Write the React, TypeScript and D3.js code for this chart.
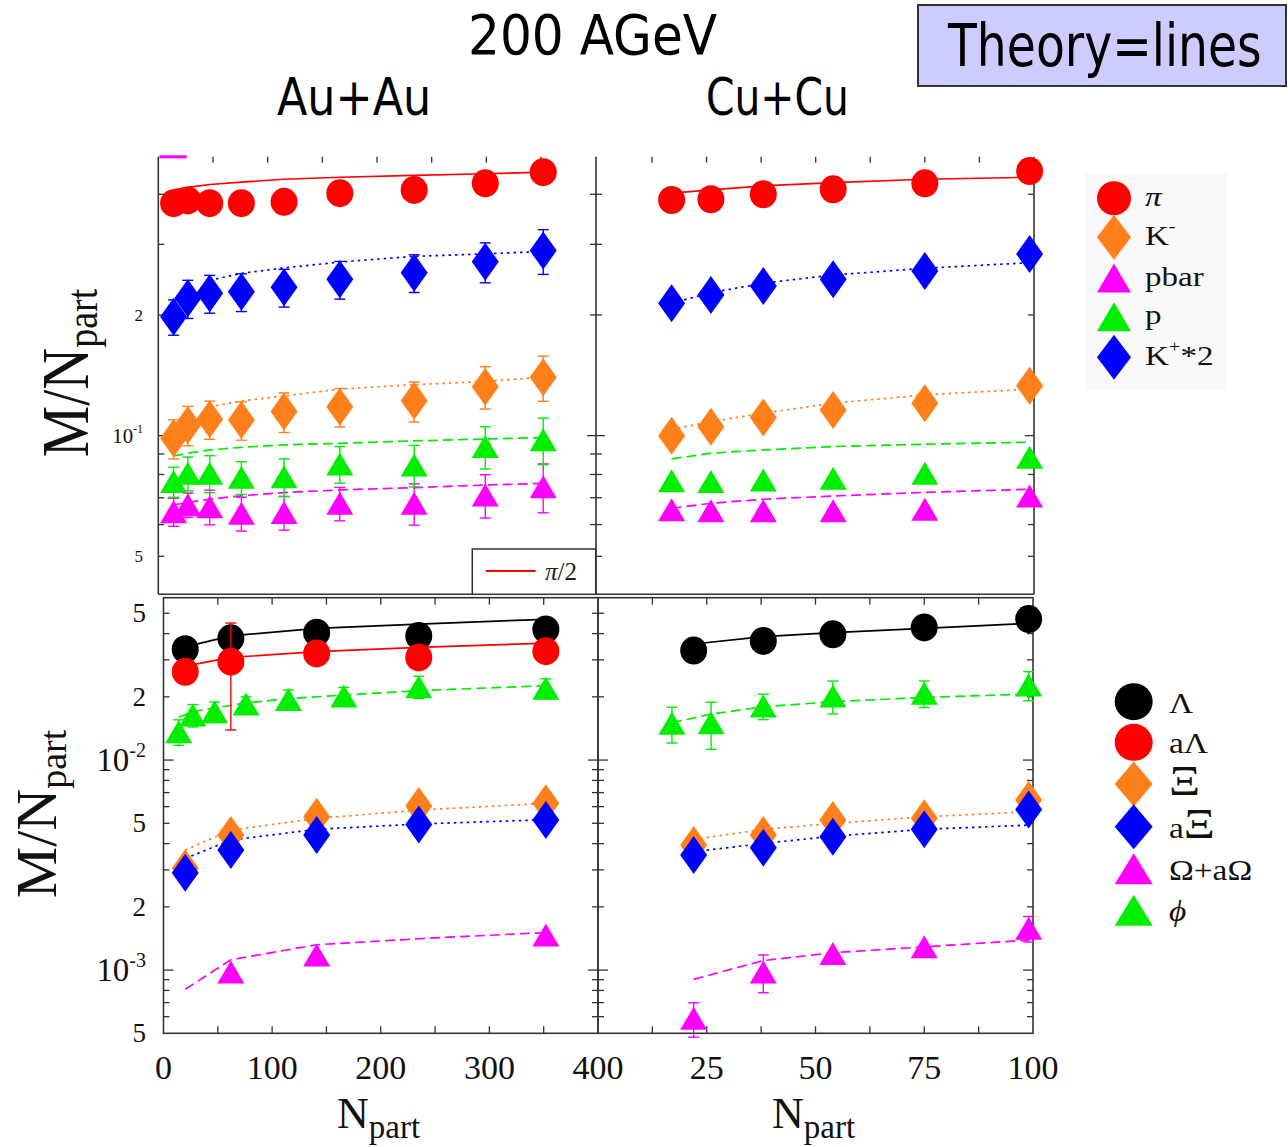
import React from "react";
import * as d3 from "d3";

// ---------- Au+Au 200 AGeV : pi, K, p (per participant) ----------
const auNpart = [14, 27, 47, 76, 115, 166, 234, 299, 352];
const auPi = [0.38, 0.386, 0.38, 0.38, 0.383, 0.4025, 0.41, 0.426, 0.454];
const auPiTheory = [0.41, 0.416, 0.423, 0.429, 0.436, 0.441, 0.446, 0.45, 0.454];
const auKminus = [0.0985, 0.1063, 0.1099, 0.1094, 0.1148, 0.1181, 0.1221, 0.1325, 0.1398];
const auKminusErr = [0.011, 0.012, 0.012, 0.012, 0.013, 0.013, 0.014, 0.016, 0.018];
const auKplus2 = [0.198, 0.22, 0.2265, 0.2286, 0.2345, 0.2455, 0.255, 0.2716, 0.2894];
const auKplus2Err = [0.02, 0.024, 0.0245, 0.0247, 0.0253, 0.0265, 0.0275, 0.031, 0.037];
const auP = [0.0768, 0.0806, 0.0806, 0.0787, 0.079, 0.085, 0.0845, 0.0939, 0.0976];
const auPErr = [0.0066, 0.0078, 0.0085, 0.0074, 0.0085, 0.0089, 0.01, 0.0113, 0.013];
const auPbar = [0.0646, 0.0672, 0.0665, 0.064, 0.0643, 0.0678, 0.0678, 0.0711, 0.0746];
const auPbarErr = [0.0052, 0.0047, 0.0066, 0.0062, 0.0062, 0.0065, 0.008, 0.0088, 0.0104];
const auKTheoryNpart = [47, 76, 115, 166, 234, 299, 352];
const auKminusTheory = [0.118, 0.122, 0.1256, 0.1306, 0.134, 0.1365, 0.14];
const auKplus2Theory = [0.244, 0.254, 0.262, 0.271, 0.28, 0.284, 0.288];
const auPTheory = [0.089, 0.0904, 0.0921, 0.0935, 0.0948, 0.0957, 0.097, 0.0981, 0.0989];
const auPbarTheory = [0.0672, 0.0681, 0.0694, 0.0708, 0.0721, 0.0732, 0.0742, 0.0753, 0.076];
const auPbarEdgeNpart = [1, 26];
const auPbarEdge = [0.496, 0.496];

// ---------- Cu+Cu 200 AGeV : pi, K, p ----------
const cuNpart = [17, 26, 38, 54, 75, 99];
const cuPi = [0.387, 0.3886, 0.4, 0.4116, 0.426, 0.457];
const cuPiTheory = [0.4025, 0.41, 0.4195, 0.4276, 0.436, 0.441];
const cuKminus = [0.1, 0.1053, 0.1109, 0.1159, 0.1205, 0.1332];
const cuKminusTheory = [0.1037, 0.1084, 0.1137, 0.1205, 0.1264, 0.1306];
const cuKplus2 = [0.2139, 0.2243, 0.2362, 0.2455, 0.2575, 0.2838];
const cuKplus2Theory = [0.214, 0.2273, 0.24, 0.2516, 0.2615, 0.27];
const cuP = [0.0772, 0.0768, 0.0775, 0.0783, 0.0806, 0.0883];
const cuPTheory = [0.0875, 0.0904, 0.0921, 0.0939, 0.0952, 0.0963];
const cuPbar = [0.0653, 0.065, 0.065, 0.065, 0.0655, 0.0707];
const cuPbarTheory = [0.0659, 0.0678, 0.0694, 0.0707, 0.0722, 0.0735];

// ---------- Au+Au strange hadrons ----------
const auStrNpart = [20, 62, 141, 235, 352];
const auLambda = [0.0337, 0.038, 0.0404, 0.039, 0.0419];
const auLambdaTheory = [0.0346, 0.039, 0.0424, 0.0444, 0.0468];
const auALambda = [0.0263, 0.0294, 0.0322, 0.0308, 0.033];
const auALambdaErr = [0, 0.0155, 0, 0, 0];
const auALambdaTheory = [0.028, 0.0308, 0.0328, 0.0344, 0.036];
const auXi = [0.00305, 0.0044, 0.00537, 0.00604, 0.00622];
const auXiTheory = [0.00373, 0.00464, 0.00527, 0.00578, 0.00622];
const auAXi = [0.00291, 0.00373, 0.0044, 0.00494, 0.00518];
const auAXiTheory = [0.0034, 0.00416, 0.00468, 0.00496, 0.0052];
const auOmegaNpart = [62, 141, 352];
const auOmega = [0.00098, 0.00118, 0.00147];
const auOmegaTheory = [0.00081, 0.00112, 0.00132, 0.00141, 0.00151];
const auPhiNpart = [14, 27, 47, 76, 115, 166, 235, 352];
const auPhi = [0.01364, 0.01637, 0.01698, 0.01848, 0.01945, 0.02018, 0.02234, 0.02195];
const auPhiErr = [0.0019, 0.002, 0.0019, 0.0015, 0.0021, 0.002, 0.0027, 0.0024];
const auPhiTheory = [0.016, 0.017, 0.0177, 0.0187, 0.0196, 0.0204, 0.0214, 0.0226];

// ---------- Cu+Cu strange hadrons ----------
const cuStrNpart = [22, 38, 54, 75, 99];
const cuLambda = [0.0332, 0.0369, 0.0397, 0.0428, 0.0469];
const cuLambdaTheory = [0.0357, 0.0387, 0.0404, 0.0424, 0.0448];
const cuXi = [0.00394, 0.0044, 0.00518, 0.00528, 0.00645];
const cuXiTheory = [0.00419, 0.00468, 0.00499, 0.00537, 0.00567];
const cuAXi = [0.00353, 0.00382, 0.00431, 0.00468, 0.00582];
const cuAXiTheory = [0.00366, 0.00401, 0.00434, 0.00468, 0.0049];
const cuOmega = [0.000589, 0.00098, 0.0012, 0.00129, 0.00158];
const cuOmegaErr = [0.00011, 0.0002, 0, 0, 0.00022];
const cuOmegaTheory = [0.000903, 0.00111, 0.00121, 0.00129, 0.00139];
const cuPhiNpart = [17, 26, 38, 54, 75, 99];
const cuPhi = [0.01496, 0.01505, 0.01808, 0.02018, 0.02078, 0.02275];
const cuPhiErr = [0.0029, 0.0038, 0.0025, 0.0036, 0.003, 0.0036];
const cuPhiTheory = [0.01505, 0.01656, 0.01794, 0.01895, 0.01988, 0.0206];

// ---------- axes ----------
const auXTickLabels = [0, 100, 200, 300, 400];
const cuXTickLabels = [25, 50, 75, 100];
const topYLabelValues = [0.05, 0.1, 0.2];
const botYLabelValues = [0.0005, 0.001, 0.002, 0.005, 0.01, 0.02, 0.05];

const topLegendLabels = ["π", "K-", "pbar", "p", "K+*2"];
const botLegendLabels = ["Λ", "aΛ", "Ξ", "aΞ", "Ω+aΩ", "ϕ"];

const RED = "#ff0000";
const ORANGE = "#ff7f1a";
const MAGENTA = "#ff00ff";
const GREEN = "#00ee00";
const BLUE = "#0000ff";
const BLACK = "#000000";
const FRAME = "#333333";

const SERIF = "'Liberation Serif','Times New Roman',Times,serif";
const HAND = "'DejaVu Sans',sans-serif";

type Kind = "circle" | "diamond" | "triangle";
type Series = { x: number[]; y: number[]; err?: number[]; color: string; kind: Kind };
type Curve = { x: number[]; y: number[]; color: string; dash?: string; width?: number };

const DOT = "2.5,4";
const DASH = "10,5";

function Marker({ kind, cx, cy, color, w, h }: { kind: Kind; cx: number; cy: number; color: string; w: number; h: number }) {
  if (kind === "circle") return <ellipse cx={cx} cy={cy} rx={w} ry={h} fill={color} />;
  if (kind === "diamond")
    return <path d={`M${cx},${cy - h}L${cx + w},${cy}L${cx},${cy + h}L${cx - w},${cy}Z`} fill={color} />;
  return <path d={`M${cx},${cy - h}L${cx + w},${cy + h}L${cx - w},${cy + h}Z`} fill={color} />;
}

const markerSize: Record<Kind, [number, number]> = {
  circle: [13.5, 14],
  diamond: [13.5, 19],
  triangle: [13.5, 11.5],
};

function PanelData({ sx, sy, curves, series }: { sx: any; sy: any; curves: Curve[]; series: Series[] }) {
  const line = d3.line<[number, number]>();
  return (
    <g>
      {curves.map((c, k) => (
        <path
          key={"c" + k}
          d={line(c.x.map((v, i) => [sx(v), sy(c.y[i])])) || ""}
          fill="none"
          stroke={c.color}
          strokeWidth={c.width ?? 1.7}
          strokeDasharray={c.dash}
        />
      ))}
      {series.map((s, k) => (
        <g key={"s" + k}>
          {s.err &&
            s.x.map((v, i) => {
              const e = s.err![i];
              if (!e) return null;
              const x = sx(v);
              const y1 = sy(s.y[i] + e);
              const y2 = sy(Math.max(s.y[i] - e, 1e-6));
              return (
                <g key={i} stroke={s.color} strokeWidth={1.4}>
                  <line x1={x} x2={x} y1={y1} y2={y2} />
                  <line x1={x - 5.5} x2={x + 5.5} y1={y1} y2={y1} />
                  <line x1={x - 5.5} x2={x + 5.5} y1={y2} y2={y2} />
                </g>
              );
            })}
          {s.x.map((v, i) => (
            <Marker
              key={i}
              kind={s.kind}
              cx={sx(v)}
              cy={sy(s.y[i])}
              color={s.color}
              w={markerSize[s.kind][0]}
              h={markerSize[s.kind][1]}
            />
          ))}
        </g>
      ))}
    </g>
  );
}

function LogTicks({ sy, x, dir, major, minor }: { sy: any; x: number; dir: number; major: number; minor: number }) {
  const [lo, hi] = sy.range();
  const ticks: number[] = sy.ticks().filter((t: number) => {
    const y = sy(t);
    return y < lo - 2 && y > hi + 2;
  });
  return (
    <g stroke={FRAME} strokeWidth={1.3}>
      {ticks.map((t, i) => {
        const isMajor = Math.abs(Math.log10(t) - Math.round(Math.log10(t))) < 1e-6;
        const len = isMajor ? major : minor;
        return <line key={i} x1={x} x2={x + dir * len} y1={sy(t)} y2={sy(t)} />;
      })}
    </g>
  );
}

function XTicks({ sx, y, dir, step, len }: { sx: any; y: number; dir: number; step: number; len: number }) {
  const [d0, d1] = sx.domain();
  const vals = d3.range(d0 + step, d1 - step / 2, step);
  return (
    <g stroke={FRAME} strokeWidth={1.3}>
      {vals.map((v: number, i: number) => (
        <line key={i} x1={sx(v)} x2={sx(v)} y1={y} y2={y + dir * len} />
      ))}
    </g>
  );
}

function YLabel({ v, sy, x, size, supSize }: { v: number; sy: any; x: number; size: number; supSize: number }) {
  const e = Math.log10(v);
  const isPow = Math.abs(e - Math.round(e)) < 1e-6;
  const y = sy(v) + size * 0.34;
  if (isPow) {
    return (
      <text x={x} y={y + size * 0.08} textAnchor="end" fontFamily={SERIF} fontSize={size * 1.22} fill="#111">
        10
        <tspan fontSize={supSize} dy={-size * 0.55}>
          {String(Math.round(e))}
        </tspan>
      </text>
    );
  }
  const mant = Math.round(v / Math.pow(10, Math.floor(e + 1e-9)));
  return (
    <text x={x} y={y} textAnchor="end" fontFamily={SERIF} fontSize={size} fill="#111">
      {mant}
    </text>
  );
}

function LegendLabel({ text, x, y, size, stretch }: { text: string; x: number; y: number; size: number; stretch: number }) {
  const sup = size * 0.62;
  const tr = `translate(${x},${y}) scale(${stretch},1)`;
  if (text === "K-")
    return (
      <text transform={tr} fontFamily={SERIF} fontSize={size} fill="#111">
        K<tspan fontSize={sup} dy={-size * 0.45}>-</tspan>
      </text>
    );
  if (text === "K+*2")
    return (
      <text transform={tr} fontFamily={SERIF} fontSize={size} fill="#111">
        K<tspan fontSize={sup} dy={-size * 0.45}>+</tspan>
        <tspan dy={size * 0.45}>*2</tspan>
      </text>
    );
  if (text.includes("Ξ")) {
    const parts = text.split("Ξ");
    return (
      <text transform={tr} fontFamily={SERIF} fontSize={size} fill="#111">
        {parts[0]}
        <tspan fontSize={size * 1.45}>Ξ</tspan>
      </text>
    );
  }
  const italic = text === "π" || text === "ϕ";
  return (
    <text transform={tr} fontFamily={SERIF} fontSize={size} fontStyle={italic ? "italic" : "normal"} fill="#111">
      {text}
    </text>
  );
}

export default function App() {
  const W = 1288;
  const H = 1147;

  // scales for the four panels
  const xAuTop = d3.scaleLinear().domain([0, 400]).range([158.3, 595.7]);
  const xCuTop = d3.scaleLinear().domain([0, 100]).range([597.4, 1034]);
  const yTop = d3.scaleLog().domain([0.0402, 0.5]).range([594.3, 155.4]);
  const xAuBot = d3.scaleLinear().domain([0, 400]).range([163.5, 598]);
  const xCuBot = d3.scaleLinear().domain([0, 100]).range([598, 1033]);
  const yBot = d3.scaleLog().domain([0.0005, 0.0593]).range([1033.3, 597.7]);

  const topTop = 156.7;
  const topBottom = 594.3;

  const auTopCurves: Curve[] = [
    { x: auNpart, y: auPiTheory, color: RED },
    { x: auKTheoryNpart, y: auKminusTheory, color: ORANGE, dash: DOT },
    { x: auNpart, y: auPbarTheory, color: MAGENTA, dash: DASH },
    { x: auNpart, y: auPTheory, color: GREEN, dash: DASH },
    { x: auKTheoryNpart, y: auKplus2Theory, color: BLUE, dash: DOT },
    { x: auPbarEdgeNpart, y: auPbarEdge, color: MAGENTA, width: 3 },
  ];
  const auTopSeries: Series[] = [
    { x: auNpart, y: auPi, color: RED, kind: "circle" },
    { x: auNpart, y: auKminus, err: auKminusErr, color: ORANGE, kind: "diamond" },
    { x: auNpart, y: auPbar, err: auPbarErr, color: MAGENTA, kind: "triangle" },
    { x: auNpart, y: auP, err: auPErr, color: GREEN, kind: "triangle" },
    { x: auNpart, y: auKplus2, err: auKplus2Err, color: BLUE, kind: "diamond" },
  ];
  const cuTopCurves: Curve[] = [
    { x: cuNpart, y: cuPiTheory, color: RED },
    { x: cuNpart, y: cuKminusTheory, color: ORANGE, dash: DOT },
    { x: cuNpart, y: cuPbarTheory, color: MAGENTA, dash: DASH },
    { x: cuNpart, y: cuPTheory, color: GREEN, dash: DASH },
    { x: cuNpart, y: cuKplus2Theory, color: BLUE, dash: DOT },
  ];
  const cuTopSeries: Series[] = [
    { x: cuNpart, y: cuPi, color: RED, kind: "circle" },
    { x: cuNpart, y: cuKminus, color: ORANGE, kind: "diamond" },
    { x: cuNpart, y: cuPbar, color: MAGENTA, kind: "triangle" },
    { x: cuNpart, y: cuP, color: GREEN, kind: "triangle" },
    { x: cuNpart, y: cuKplus2, color: BLUE, kind: "diamond" },
  ];
  const auBotCurves: Curve[] = [
    { x: auStrNpart, y: auLambdaTheory, color: BLACK },
    { x: auStrNpart, y: auALambdaTheory, color: RED },
    { x: auStrNpart, y: auXiTheory, color: ORANGE, dash: DOT },
    { x: auStrNpart, y: auAXiTheory, color: BLUE, dash: DOT },
    { x: auStrNpart, y: auOmegaTheory, color: MAGENTA, dash: DASH },
    { x: auPhiNpart, y: auPhiTheory, color: GREEN, dash: DASH },
  ];
  const auBotSeries: Series[] = [
    { x: auStrNpart, y: auLambda, color: BLACK, kind: "circle" },
    { x: auStrNpart, y: auALambda, err: auALambdaErr, color: RED, kind: "circle" },
    { x: auStrNpart, y: auXi, color: ORANGE, kind: "diamond" },
    { x: auStrNpart, y: auAXi, color: BLUE, kind: "diamond" },
    { x: auOmegaNpart, y: auOmega, color: MAGENTA, kind: "triangle" },
    { x: auPhiNpart, y: auPhi, err: auPhiErr, color: GREEN, kind: "triangle" },
  ];
  const cuBotCurves: Curve[] = [
    { x: cuStrNpart, y: cuLambdaTheory, color: BLACK },
    { x: cuStrNpart, y: cuXiTheory, color: ORANGE, dash: DOT },
    { x: cuStrNpart, y: cuAXiTheory, color: BLUE, dash: DOT },
    { x: cuStrNpart, y: cuOmegaTheory, color: MAGENTA, dash: DASH },
    { x: cuPhiNpart, y: cuPhiTheory, color: GREEN, dash: DASH },
  ];
  const cuBotSeries: Series[] = [
    { x: cuStrNpart, y: cuLambda, color: BLACK, kind: "circle" },
    { x: cuStrNpart, y: cuXi, color: ORANGE, kind: "diamond" },
    { x: cuStrNpart, y: cuAXi, color: BLUE, kind: "diamond" },
    { x: cuStrNpart, y: cuOmega, err: cuOmegaErr, color: MAGENTA, kind: "triangle" },
    { x: cuPhiNpart, y: cuPhi, err: cuPhiErr, color: GREEN, kind: "triangle" },
  ];

  const topLegend: { kind: Kind; color: string }[] = [
    { kind: "circle", color: RED },
    { kind: "diamond", color: ORANGE },
    { kind: "triangle", color: MAGENTA },
    { kind: "triangle", color: GREEN },
    { kind: "diamond", color: BLUE },
  ];
  const topLegendY = [198.3, 237.3, 278, 316.7, 357.3];
  const topLegendSize: Record<Kind, [number, number]> = { circle: [17, 17], diamond: [17, 22.5], triangle: [17, 14.5] };
  const botLegend: { kind: Kind; color: string }[] = [
    { kind: "circle", color: BLACK },
    { kind: "circle", color: RED },
    { kind: "diamond", color: ORANGE },
    { kind: "diamond", color: BLUE },
    { kind: "triangle", color: MAGENTA },
    { kind: "triangle", color: GREEN },
  ];
  const botLegendY = [701.7, 742.3, 784, 826.7, 868.7, 910.3];
  const botLegendSize: Record<Kind, [number, number]> = { circle: [19, 18.5], diamond: [19, 22.5], triangle: [19, 15.5] };

  return (
    <svg width={W} height={H} viewBox={`0 0 ${W} ${H}`} style={{ display: "block", position: "absolute", left: 0, top: 0, background: "#fff" }}>
      <rect x={0} y={0} width={W} height={H} fill="#fff" />

      {/* headings */}
      <text transform="translate(468,54) scale(0.912,1)" fontFamily={HAND} fontSize={55} fill="#000">
        200 AGeV
      </text>
      <text transform="translate(277,115) scale(0.87,1)" fontFamily={HAND} fontSize={51} fill="#000">
        Au+Au
      </text>
      <text transform="translate(706,115) scale(0.8,1)" fontFamily={HAND} fontSize={51} fill="#000">
        Cu+Cu
      </text>
      <rect x={918} y={5} width={368} height={81} fill="#ccccff" stroke={FRAME} strokeWidth={2} />
      <text transform="translate(948,66) scale(0.815,1)" fontFamily={HAND} fontSize={58} fill="#000">
        Theory=lines
      </text>

      {/* top legend */}
      <rect x={1085} y={173} width={142} height={217} fill="#f9f9f9" />
      {topLegend.map((m, i) => (
        <g key={i}>
          <Marker kind={m.kind} cx={1114} cy={topLegendY[i]} color={m.color} w={topLegendSize[m.kind][0]} h={topLegendSize[m.kind][1]} />
          <LegendLabel text={topLegendLabels[i]} x={1145} y={topLegendY[i] + 7.5} size={28} stretch={1.18} />
        </g>
      ))}

      {/* bottom legend */}
      {botLegend.map((m, i) => (
        <g key={i}>
          <Marker kind={m.kind} cx={1133.7} cy={botLegendY[i]} color={m.color} w={botLegendSize[m.kind][0]} h={botLegendSize[m.kind][1]} />
          <LegendLabel text={botLegendLabels[i]} x={1169} y={botLegendY[i] + 11} size={29} stretch={1.15} />
        </g>
      ))}

      {/* top panels frame */}
      <g stroke={FRAME} strokeWidth={1.6} fill="none">
        <line x1={158.3} x2={158.3} y1={topTop} y2={topBottom} />
        <line x1={596} x2={596} y1={topTop} y2={topBottom} />
        <line x1={1034} x2={1034} y1={topTop} y2={topBottom} />
        <line x1={158.3} x2={1034} y1={topBottom} y2={topBottom} />
      </g>
      <XTicks sx={xAuTop} y={topTop} dir={1} step={50} len={6} />
      <XTicks sx={xCuTop} y={topTop} dir={1} step={12.5} len={6} />
      <LogTicks sy={yTop} x={158.3} dir={1} major={9} minor={6} />
      <LogTicks sy={yTop} x={596} dir={-1} major={9} minor={6} />
      <LogTicks sy={yTop} x={596} dir={1} major={9} minor={6} />
      <LogTicks sy={yTop} x={1034} dir={-1} major={9} minor={6} />

      {/* bottom panels frame */}
      <g stroke={FRAME} strokeWidth={1.6} fill="none">
        <rect x={163.5} y={597.7} width={598 - 163.5} height={1033.3 - 597.7} />
        <rect x={598} y={597.7} width={1033 - 598} height={1033.3 - 597.7} />
      </g>
      <XTicks sx={xAuBot} y={597.7} dir={1} step={50} len={7} />
      <XTicks sx={xCuBot} y={597.7} dir={1} step={12.5} len={7} />
      <XTicks sx={xAuBot} y={1033.3} dir={-1} step={50} len={7} />
      <XTicks sx={xCuBot} y={1033.3} dir={-1} step={12.5} len={7} />
      <LogTicks sy={yBot} x={163.5} dir={1} major={10} minor={6} />
      <LogTicks sy={yBot} x={598} dir={-1} major={10} minor={6} />
      <LogTicks sy={yBot} x={598} dir={1} major={10} minor={6} />
      <LogTicks sy={yBot} x={1033} dir={-1} major={10} minor={6} />

      {/* data */}
      <PanelData sx={xAuTop} sy={yTop} curves={auTopCurves} series={auTopSeries} />
      <PanelData sx={xCuTop} sy={yTop} curves={cuTopCurves} series={cuTopSeries} />
      <PanelData sx={xAuBot} sy={yBot} curves={auBotCurves} series={auBotSeries} />
      <PanelData sx={xCuBot} sy={yBot} curves={cuBotCurves} series={cuBotSeries} />

      {/* pi/2 key */}
      <rect x={472.3} y={549} width={595.7 - 472.3} height={topBottom - 549} fill="#fff" stroke={FRAME} strokeWidth={1.5} />
      <line x1={485.7} x2={535.7} y1={571} y2={571} stroke={RED} strokeWidth={2} />
      <text x={545} y={580} fontFamily={SERIF} fontSize={25} fill="#222">
        <tspan fontStyle="italic">π</tspan>/2
      </text>

      {/* y tick labels */}
      {topYLabelValues.map((v, i) => (
        <YLabel key={i} v={v} sy={yTop} x={143} size={17} supSize={12} />
      ))}
      {botYLabelValues.map((v, i) => (
        <YLabel key={i} v={v} sy={yBot} x={146} size={27} supSize={20} />
      ))}

      {/* x tick labels */}
      {auXTickLabels.map((v, i) => (
        <text key={"a" + i} x={xAuBot(v)} y={1079} textAnchor="middle" fontFamily={SERIF} fontSize={34} fill="#111">
          {v}
        </text>
      ))}
      {cuXTickLabels.map((v, i) => (
        <text key={"c" + i} x={xCuBot(v)} y={1079} textAnchor="middle" fontFamily={SERIF} fontSize={34} fill="#111">
          {v}
        </text>
      ))}

      {/* axis titles */}
      <text x={337} y={1128} fontFamily={SERIF} fontSize={44} fill="#111">
        N<tspan fontSize={33} dy={10}>part</tspan>
      </text>
      <text x={772} y={1128} fontFamily={SERIF} fontSize={44} fill="#111">
        N<tspan fontSize={33} dy={10}>part</tspan>
      </text>
      <text transform="translate(88,373) rotate(-90) scale(1,1.15)" textAnchor="middle" fontFamily={SERIF} fontSize={58} fill="#111">
        M/N<tspan fontSize={38} dy={8}>part</tspan>
      </text>
      <text transform="translate(56,814) rotate(-90)" textAnchor="middle" fontFamily={SERIF} fontSize={58} fill="#111">
        M/N<tspan fontSize={38} dy={10}>part</tspan>
      </text>
    </svg>
  );
}
